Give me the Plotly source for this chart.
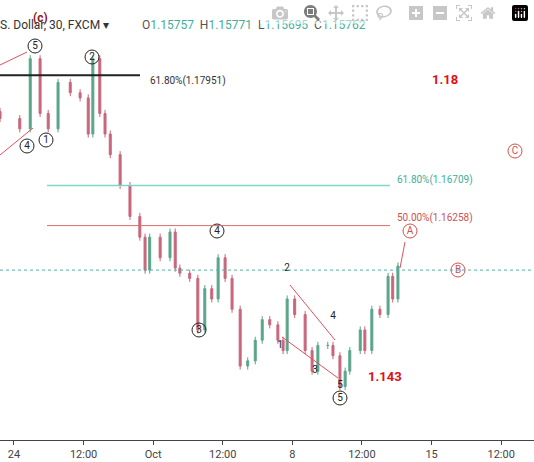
import plotly.graph_objects as go

# hours from the "24" tick, close prices
hours = [-2.4, 1.0, 2.8, 4.5, 5.9, 7.6, 9.7, 11.4, 12.8, 13.6, 14.8, 15.7, 16.6, 18.3, 20.0, 21.7, 22.6,
         23.4, 25.2, 26.9, 27.8, 28.6, 30.3, 31.7, 32.9, 34.1, 35.2, 36.4, 37.6, 39.0, 40.3, 41.6, 42.8,
         44.1, 45.5, 46.4, 47.1, 48.4, 50.2, 51.4, 52.4, 54.1, 55.0, 56.2, 57.1, 57.9, 59.7, 60.5, 61.7,
         63.1, 64.5, 65.3, 66.2]
closes = [1.17463, 1.17347, 1.18137, 1.17521, 1.17347, 1.1787, 1.17754, 1.17696, 1.17289, 1.18137,
          1.17521, 1.17289, 1.17057, 1.16709, 1.16361, 1.16128, 1.15757, 1.16128, 1.15896, 1.16186,
          1.1578, 1.15722, 1.15664, 1.15083, 1.15548, 1.15432, 1.15896, 1.15664, 1.15316, 1.14677,
          1.14735, 1.14967, 1.15199, 1.15141, 1.14967, 1.14851, 1.15432, 1.15257, 1.14851, 1.14619,
          1.14909, 1.14909, 1.14793, 1.14445, 1.14619, 1.14851, 1.15083, 1.14851, 1.15316, 1.15257,
          1.15687, 1.15432, 1.15803]
opens = [closes[0] + 0.0008] + closes[:-1]
highs = [max(o, c) + 0.0004 for o, c in zip(opens, closes)]
lows = [min(o, c) - 0.0004 for o, c in zip(opens, closes)]

tick_hours = [0, 12, 24, 36, 48, 60, 72, 84]
tick_text = ["24", "12:00", "Oct", "12:00", "8", "12:00", "15", "12:00"]

fib_black = 1.17951
fib_618 = 1.16709
fib_500 = 1.16258
last_price = 1.15757

# wave labels
circled_black = ["5", "2", "1", "4", "3", "4", "5"]
circled_black_x = [35, 92, 46, 27, 199, 217, 340]
circled_black_y = [46, 57, 140, 146, 330, 231, 398]
circled_red = ["A", "B", "C"]
circled_red_x = [410, 458, 515]
circled_red_y = [231, 270, 151]
minor = ["2", "4", "1", "3", "5"]
minor_x = [287, 333, 280, 315, 340]
minor_y = [268, 316, 345, 370, 385]

W, H = 534, 462
PH = 440  # plot height in px


def px_x(px):
    return px / W


def px_y(py):
    return 1 - py / PH


fig = go.Figure(go.Candlestick(
    x=hours, open=opens, high=highs, low=lows, close=closes,
    increasing=dict(line=dict(color="#5aa58a", width=1), fillcolor="#5aa58a"),
    decreasing=dict(line=dict(color="#c8667a", width=1), fillcolor="#c8667a"),
    whiskerwidth=0, showlegend=False))

# overlay scatter in pixel space for labels
fig.add_trace(go.Scatter(x=circled_black_x, y=circled_black_y, xaxis="x2", yaxis="y2",
                         mode="markers+text", text=circled_black, textposition="middle center",
                         marker=dict(symbol="circle-open", size=14, color="#222222", line=dict(width=1)),
                         textfont=dict(size=10, color="#222222"), showlegend=False, hoverinfo="skip"))
fig.add_trace(go.Scatter(x=circled_red_x, y=circled_red_y, xaxis="x2", yaxis="y2",
                         mode="markers+text", text=circled_red, textposition="middle center",
                         marker=dict(symbol="circle-open", size=14, color="#d05050", line=dict(width=1)),
                         textfont=dict(size=10, color="#d05050"), showlegend=False, hoverinfo="skip"))
fig.add_trace(go.Scatter(x=minor_x, y=minor_y, xaxis="x2", yaxis="y2", mode="text", text=minor,
                         textposition="middle center", textfont=dict(size=10, color="#222222"),
                         showlegend=False, hoverinfo="skip"))

shapes = []


def line_px(x0, y0, x1, y1, color, width=1, dash="solid"):
    shapes.append(dict(type="line", xref="paper", yref="paper", x0=px_x(x0), y0=px_y(y0),
                       x1=px_x(x1), y1=px_y(y1), line=dict(color=color, width=width, dash=dash)))


def hline(y, x0, x1, color, width=1, dash="solid"):
    shapes.append(dict(type="line", xref="paper", yref="y", x0=px_x(x0), x1=px_x(x1), y0=y, y1=y,
                       line=dict(color=color, width=width, dash=dash)))


hline(fib_black, 0, 140, "#222222", 2)
hline(fib_618, 47, 390, "#7fd6c8", 1.5)
hline(fib_500, 47, 390, "#e06a6a", 1)
hline(last_price, 0, 534, "#4cb3a5", 1, "dot")

line_px(0, 65, 27, 52, "#e05060")
line_px(0, 155, 33, 128, "#e05060")
line_px(290, 285, 335, 340, "#e05060")
line_px(282, 337, 338, 378, "#e05060")
line_px(400, 268, 405, 242, "#e05060")

annotations = []


def txt(px, py, t, color="#222222", size=10, xanchor="center"):
    annotations.append(dict(x=px_x(px), y=px_y(py), xref="paper", yref="paper", text=t, showarrow=False,
                            xanchor=xanchor, font=dict(size=size, color=color)))


txt(148, 73, "61.80%(1.17951)", "#333333", 10, "left")
txt(395, 180, "61.80%(1.16709)", "#3fae9c", 10, "left")
txt(395, 218, "50.00%(1.16258)", "#d05050", 10, "left")
txt(445, 70, "<b>1.18</b>", "#e01010", 13)
txt(385, 386, "<b>1.143</b>", "#e01010", 13)
txt(40, 9, "<b>(c)</b>", "#8b1a1a", 12)
txt(-2, 16, "S. Dollar, 30, FXCM ▾", "#333333", 12, "left")
txt(140, 16, "O<span style='color:#3fae9c'>1.15757</span>  H<span style='color:#3fae9c'>1.15771</span>  "
             "L<span style='color:#3fae9c'>1.15695</span>  C<span style='color:#3fae9c'>1.15762</span>",
    "#555555", 12, "left")

fig.update_layout(
    width=W, height=H, margin=dict(l=0, r=0, t=0, b=22),
    plot_bgcolor="white", paper_bgcolor="white",
    font=dict(family="Roboto, sans-serif"),
    shapes=shapes, annotations=annotations,
    xaxis=dict(range=[-2.41, 89.66], tickvals=tick_hours, ticktext=tick_text, showgrid=False,
               rangeslider=dict(visible=False), showline=True, linecolor="#444444", ticks="outside",
               ticklen=4, tickcolor="#444444", tickfont=dict(size=11, color="#444444"), zeroline=False),
    yaxis=dict(range=[1.13844, 1.18798], visible=False, showgrid=False),
    xaxis2=dict(range=[0, W], overlaying="x", visible=False),
    yaxis2=dict(range=[PH, 0], overlaying="y", visible=False),
)

fig.write_html("out.html", post_script="document.body.style.margin='0';")
